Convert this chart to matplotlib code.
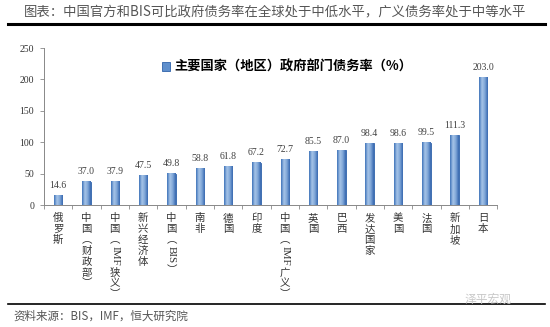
import matplotlib
matplotlib.use("Agg")
import matplotlib.pyplot as plt
import numpy as np
from matplotlib.colors import LinearSegmentedColormap

categories = ["俄罗斯", "中国（财政部）", "中国（IMF狭义）", "新兴经济体", "中国（BIS）",
              "南非", "德国", "印度", "中国（IMF广义）", "英国", "巴西", "发达国家",
              "美国", "法国", "新加坡", "日本"]
values = [14.6, 37.0, 37.9, 47.5, 49.8, 58.8, 61.8, 67.2, 72.7, 85.5, 87.0,
          98.4, 98.6, 99.5, 111.3, 203.0]
yticks = [0, 50, 100, 150, 200, 250]

title = "图表：中国官方和BIS可比政府债务率在全球处于中低水平，广义债务率处于中等水平"
legend_label = "主要国家（地区）政府部门债务率（%）"
source = "资料来源：BIS，IMF，恒大研究院"

CJK = ["Noto Sans CJK SC", "DejaVu Sans"]
SERIF = ["Liberation Serif", "DejaVu Serif"]
plt.rcParams["font.family"] = CJK

DPI = 100
fig = plt.figure(figsize=(5.5, 3.27), dpi=DPI)
ax = fig.add_axes([0.08, 0.373, 0.824, 0.48])

x = np.arange(len(values))
bw = 0.3
bars = ax.bar(x, values, width=bw, color="#5f8fcc", edgecolor="#2f62aa",
              linewidth=0.6, zorder=2, label=legend_label)

# gradient fill inside each bar
cmap = LinearSegmentedColormap.from_list("g", ["#3b70b8", "#a9c6e8", "#7ea6d8", "#3566ae"])
grad = np.linspace(0, 1, 64).reshape(1, -1)
for xi, v in zip(x, values):
    ax.imshow(grad, extent=(xi - bw / 2, xi + bw / 2, 0, v), aspect="auto",
              cmap=cmap, zorder=2.5, interpolation="bicubic")

for xi, v in zip(x, values):
    ax.annotate(f"{v:.1f}", (xi, v), xytext=(0, 4), textcoords="offset points",
                ha="center", va="bottom", fontsize=7, color="#404040", family=SERIF)

ax.set_xlim(-0.5, len(values) - 0.5)
ax.set_ylim(0, 250)
ax.set_yticks(yticks)
ax.set_yticklabels([str(t) for t in yticks], family=SERIF, fontsize=7, color="#333333")
ax.tick_params(axis="y", length=3, width=0.6, color="#888888", pad=4)
ax.set_xticks(x)
ax.set_xticklabels([])
ax.tick_params(axis="x", which="major", length=0)
ax.set_xticks(np.arange(-0.5, len(values)), minor=True)
ax.tick_params(axis="x", which="minor", length=3, width=0.6, color="#888888")
for s in ["top", "right"]:
    ax.spines[s].set_visible(False)
for s in ["left", "bottom"]:
    ax.spines[s].set_color("#888888")
    ax.spines[s].set_linewidth(0.7)

# vertical category labels: CJK upright, latin runs rotated
renderer = fig.canvas.get_renderer()
vert = {"（": "︵", "）": "︶"}
for xi, lab in zip(x, categories):
    tokens = []
    buf = ""
    for ch in lab:
        if ch.isascii():
            buf += ch
        else:
            if buf:
                tokens.append(("lat", buf))
                buf = ""
            tokens.append(("cjk", vert.get(ch, ch)))
    if buf:
        tokens.append(("lat", buf))
    off = 6.0
    for kind, tok in tokens:
        if kind == "cjk":
            t = ax.annotate(tok, (xi, 0), xycoords=("data", "axes fraction"),
                            xytext=(0, -off), textcoords="offset points",
                            ha="center", va="top", fontsize=7.5, color="#333333")
            off += 7.8
        else:
            t = ax.annotate(tok, (xi, 0), xycoords=("data", "axes fraction"),
                            xytext=(0, -off), textcoords="offset points",
                            ha="center", va="top", fontsize=8, color="#333333",
                            family=SERIF, rotation=-90)
            h = t.get_window_extent(renderer).height * 72 / DPI
            off += h + 1.5

leg = ax.legend(loc="upper left", bbox_to_anchor=(0.235, 1.0), frameon=False,
                handlelength=0.6, handleheight=0.7, handletextpad=0.3,
                prop={"size": 9.5, "weight": "bold"})

fig.text(0.5, 0.963, title, ha="center", va="center", fontsize=9.6, color="#555555")
fig.add_artist(plt.Line2D([0.015, 0.99], [0.928, 0.928], color="black", lw=2.2))
fig.add_artist(plt.Line2D([0.015, 0.99], [0.07, 0.07], color="black", lw=1.2))
fig.text(0.025, 0.032, source, ha="left", va="center", fontsize=8.3,
         color="#555555", style="italic")
fig.text(0.93, 0.085, "泽平宏观", ha="right", va="center", fontsize=8.5,
         color="#c8c8c8")

fig.savefig("out.png", dpi=DPI)
